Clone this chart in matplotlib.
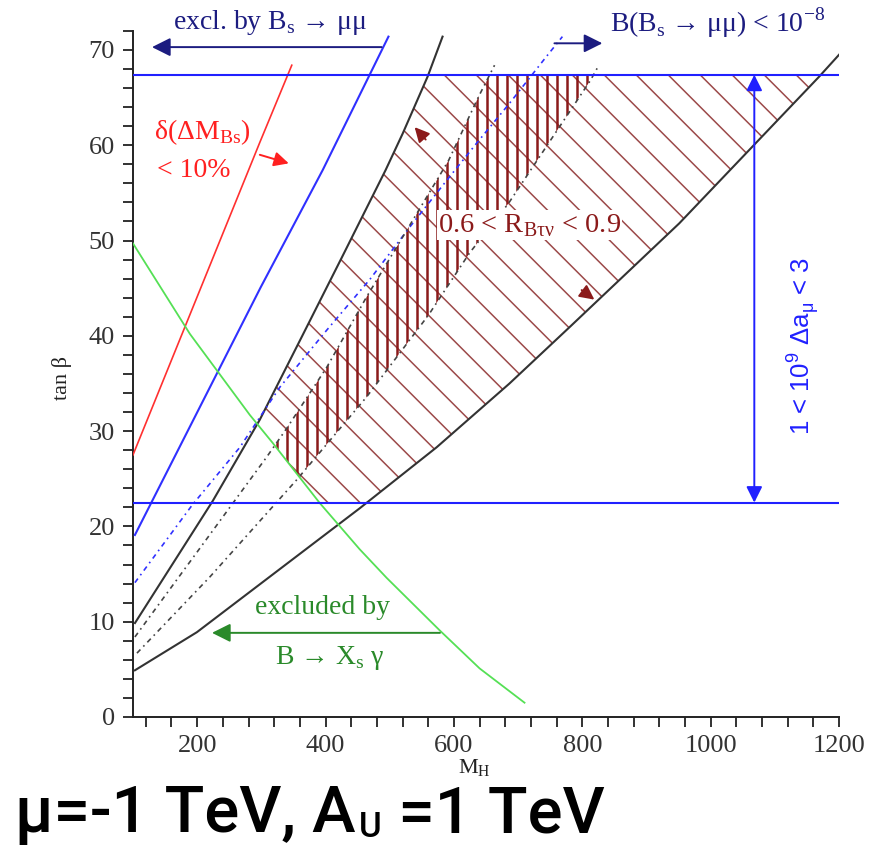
import numpy as np
import matplotlib

matplotlib.use("Agg")
import matplotlib.pyplot as plt
from matplotlib.patches import Polygon
from matplotlib.collections import LineCollection
from matplotlib.ticker import MultipleLocator

# curves: (M_H, tan beta)
red_mh = [100, 297.6, 347.4]
red_tb = [27.5, 60.3, 68.4]

blue_mh = [103, 299, 395.6, 498]
blue_tb = [19.1, 45.1, 57.4, 71.4]

steep_mh = [103.1, 224.5, 297.6, 364.5, 426.7, 493.6, 520, 559, 582.3]
steep_tb = [9.86, 22.7, 31.2, 40.1, 48.4, 57.4, 61.2, 67.2, 71.4]

lower_mh = [103, 199.6, 453.2, 573, 686.6, 780, 951, 1169, 1200]
lower_tb = [4.9, 8.9, 21.9, 28.3, 35.0, 40.9, 51.8, 67.2, 69.5]

bsmm_mh = [103, 191.8, 266.5, 328.7, 401.9, 468.8, 531, 588.6, 635.2, 686.6, 744, 769]
bsmm_tb = [14.1, 22.2, 28.3, 34.6, 40.6, 45.9, 51.4, 56.3, 60.2, 64.4, 69.3, 71.4]

rhi_mh = [103, 308.5, 339.6, 401.9, 464.1, 529.4, 591.7, 638.4, 663.3]
rhi_tb = [8.4, 27.3, 30.3, 36.7, 44.1, 51.4, 58.4, 65.1, 68.4]

rlo_mh = [106.2, 219.8, 355.2, 464.1, 560.6, 624.4, 685, 812.6, 825]
rlo_tb = [6.7, 14.7, 24.9, 33.6, 42.2, 48.7, 53.9, 66.8, 68.3]

bsg_mh = [100, 188.7, 282, 317.8, 391, 453.2, 495.2, 577.7, 640, 710]
bsg_tb = [49.7, 40.2, 31.7, 28.75, 22.45, 17.6, 14.6, 9.1, 5.1, 1.5]

amu_lo = 22.5
amu_hi = 67.4
amu_mh = 1068

x_ticks = [200, 400, 600, 800, 1000, 1200]
y_ticks = [0, 10, 20, 30, 40, 50, 60, 70]

SERIF = ["Liberation Serif", "DejaVu Serif"]
SANS = ["Liberation Sans", "DejaVu Sans"]
NAVY = "#1c1c80"
DARKRED = "#8b1a1a"
HATCH = "#9c4a4a"
GREEN_TXT = "#2a8a2a"


def x_at(tb, mh, tb_pts):
    # invert a monotonic curve: M_H as a function of tan beta
    mh = np.asarray(mh, float)
    tb_pts = np.asarray(tb_pts, float)
    if tb_pts[0] > tb_pts[-1]:
        return np.interp(tb, tb_pts[::-1], mh[::-1])
    return np.interp(tb, tb_pts, mh)


def clipped_lines(ax, verts, segments, **kw):
    patch = Polygon(verts, closed=True, facecolor="none", edgecolor="none")
    ax.add_patch(patch)
    lc = LineCollection(segments, **kw)
    ax.add_collection(lc, autolim=False)
    lc.set_clip_path(patch)


fig = plt.figure(figsize=(8.72, 8.47), dpi=100)
ax = fig.add_axes([0.1525, 0.1535, 0.8097, 0.81])
xmin, xmax, ymin, ymax = 100, 1200, 0, 72
ax.set_xlim(xmin, xmax)
ax.set_ylim(ymin, ymax)

ppx = 0.8097 * 872 / (xmax - xmin)
ppy = 0.81 * 847 / (ymax - ymin)

# diagonal hatched region
t = np.linspace(amu_lo, amu_hi, 300)
left = np.maximum(x_at(t, steep_mh, steep_tb), x_at(t, bsg_mh, bsg_tb))
right = x_at(t, lower_mh, lower_tb)
verts = list(zip(left, t)) + list(zip(right[::-1], t[::-1]))
slope = ppx / ppy
c0 = 67.16 + slope * 837.5
dc = 32 / ppy
segs = []
for c in c0 + dc * np.arange(-40, 30):
    segs.append([(xmin, c - slope * xmin), (xmax, c - slope * xmax)])
clipped_lines(ax, verts, segs, colors=HATCH, linewidths=1.1, zorder=1)

# vertical hatched band
t = np.linspace(0, amu_hi, 400)
left = np.maximum(x_at(t, rhi_mh, rhi_tb), x_at(t, bsg_mh, bsg_tb))
right = x_at(t, rlo_mh, rlo_tb)
ok = left < right
verts = list(zip(left[ok], t[ok])) + list(zip(right[ok][::-1], t[ok][::-1]))
dx = 10 / ppx
segs = [[(x, ymin), (x, ymax)] for x in 339.6 + dx * np.arange(-10, 40)]
clipped_lines(ax, verts, segs, colors=DARKRED, linewidths=1.8, zorder=1.5)

# curves
ax.plot(red_mh, red_tb, color="#ff3030", lw=1.2, zorder=3)
ax.plot(blue_mh, blue_tb, color="#3030ff", lw=1.5, zorder=3)
ax.plot(steep_mh, steep_tb, color="#333333", lw=1.5, zorder=3)
ax.plot(lower_mh, lower_tb, color="#333333", lw=1.5, zorder=3)
ax.plot(bsmm_mh, bsmm_tb, color="#3030ff", lw=1.2, dashes=(3, 2.5, 1, 2.5), zorder=3)
ax.plot(rhi_mh, rhi_tb, color="#444444", lw=1.2, dashes=(3, 2.5, 1, 2.5), zorder=3)
ax.plot(rlo_mh, rlo_tb, color="#444444", lw=1.2, dashes=(3, 2.5, 1, 2.5), zorder=3)
ax.plot(bsg_mh, bsg_tb, color="#55e055", lw=1.3, zorder=3)
ax.axhline(amu_lo, color="#2020ff", lw=1.5, zorder=3)
ax.axhline(amu_hi, color="#2020ff", lw=1.5, zorder=3)


def arrow(tail, tip, color, scale=22, style="-|>"):
    ax.annotate("", xy=tip, xytext=tail, annotation_clip=False,
                arrowprops=dict(arrowstyle=style, color=color, lw=1.4,
                                mutation_scale=scale, shrinkA=0, shrinkB=0), zorder=4)


arrow((487.4, 70.3), (129.6, 70.3), NAVY, scale=28)
arrow((756.6, 70.7), (831.3, 70.7), NAVY, scale=28)
arrow((297.6, 59.0), (342.7, 58.1), "#ff2020", scale=22)
arrow((100 + (440 - 133) / ppx, 8.83), (100 + (212 - 133) / ppx, 8.83), GREEN_TXT, scale=28)
arrow((556, 60.6), (538.8, 61.9), DARKRED, scale=22)
arrow((799, 44.8), (818.8, 43.8), DARKRED, scale=22)
arrow((amu_mh, amu_lo), (amu_mh, amu_hi), "#2020ff", scale=24, style="<|-|>")

# labels
ax.text(313, 72.9, r"excl. by B$_{\mathregular{s}}$ → μμ", color=NAVY, family=SERIF,
        fontsize=20, ha="center", va="center", clip_on=False)
ax.text(1010, 72.9, r"B(B$_{\mathregular{s}}$ → μμ) < 10$^{\mathregular{-8}}$", color=NAVY,
        family=SERIF, fontsize=20, ha="center", va="center", clip_on=False)
ax.text(208, 61.4, r"δ(ΔM$_{\mathregular{Bs}}$)", color="#ff2020", family=SERIF,
        fontsize=20, ha="center", va="center")
ax.text(195, 57.4, "< 10%", color="#ff2020", family=SERIF, fontsize=20,
        ha="center", va="center")
ax.text(717.7, 51.6, r"0.6 < R$_{\mathregular{Bτν}}$ < 0.9", color=DARKRED, family=SERIF,
        fontsize=20.5, ha="center", va="center", zorder=5,
        bbox=dict(facecolor="white", edgecolor="none", pad=1))
ax.text(100 + (323 - 133) / ppx, (717 - 608) / ppy, "excluded by", color=GREEN_TXT,
        family=SERIF, fontsize=20, ha="center", va="center")
ax.text(100 + (330 - 133) / ppx, (717 - 658) / ppy, r"B → X$_{\mathregular{s}}$ γ",
        color=GREEN_TXT, family=SERIF, fontsize=20, ha="center", va="center")
ax.text(100 + (803 - 133) / ppx, (717 - 346) / ppy,
        r"1 < 10$^{\mathregular{9}}$ Δa$_{\mathregular{μ}}$ < 3", color="#2020ff",
        family=SANS, fontsize=18.5, rotation=90, ha="center", va="center")

# axes styling
for side in ("top", "right"):
    ax.spines[side].set_visible(False)
for side in ("left", "bottom"):
    ax.spines[side].set_linewidth(1.4)
    ax.spines[side].set_color("#222222")
ax.xaxis.set_major_locator(MultipleLocator(200))
ax.xaxis.set_minor_locator(MultipleLocator(40))
ax.yaxis.set_major_locator(MultipleLocator(10))
ax.yaxis.set_minor_locator(MultipleLocator(2))
ax.set_xticks(x_ticks)
ax.set_yticks(y_ticks)
ax.tick_params(which="both", direction="out", length=7, width=1.3, color="#222222")
ax.tick_params(which="major", labelsize=19, labelcolor="#333333", pad=6)
for lab in ax.get_xticklabels() + ax.get_yticklabels():
    lab.set_family(SERIF)

fig.text(62 / 872, 1 - 378 / 847, "tan β", family=SERIF, fontsize=16, rotation=90,
         ha="center", va="center", color="#222222")
fig.text(474 / 872, 1 - 768 / 847, r"M$_{\mathregular{H}}$", family=SERIF, fontsize=16,
         ha="center", va="center", color="#222222")

# caption below the plot
renderer = fig.canvas.get_renderer()
cap = dict(family=["Roboto", "DejaVu Sans"], weight="medium", color="black", va="baseline")
t1 = fig.text(15 / 872, 1 - 832 / 847, "μ=-1 TeV, A", fontsize=47, **cap)
bb = t1.get_window_extent(renderer)
t2 = fig.text(bb.x1 / 872 + 0.004, 1 - 837 / 847, "U", fontsize=25, **cap)
bb = t2.get_window_extent(renderer)
fig.text(bb.x1 / 872, 1 - 832 / 847, " =1 TeV", fontsize=47, **cap)

fig.savefig("out.png", dpi=100)
